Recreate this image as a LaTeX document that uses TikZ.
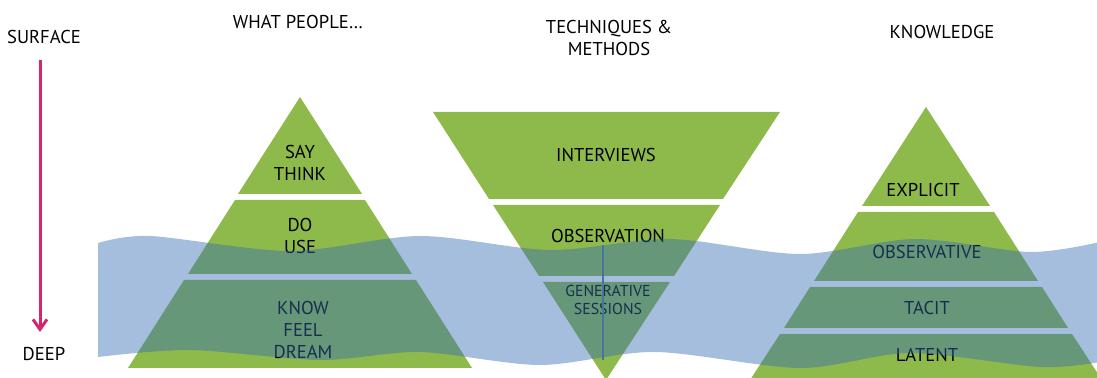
\documentclass[tikz,border=0pt]{standalone}
\usepackage{fontspec}
\setmainfont{PT Sans}
\usetikzlibrary{arrows.meta}
\definecolor{leaf}{RGB}{142,186,76}
\definecolor{sea}{RGB}{53,107,178}
\definecolor{depthred}{RGB}{214,36,110}
\definecolor{seam}{RGB}{72,116,160}

\begin{document}
\begin{tikzpicture}[x=0.5pt,y=-0.5pt,
  layer/.style={fill=leaf},
  water/.style={fill=sea,fill opacity=0.44},
  lbl/.style={font=\fontsize{9.3}{11}\selectfont,align=center,inner sep=0pt},
  smalllbl/.style={font=\fontsize{7.9}{9}\selectfont,align=center,inner sep=0pt},
  depth arrow/.style={draw=depthred,line width=1.5pt,-{Straight Barb[length=5pt,width=7pt]}}]
  \clip (0,0) rectangle (1097,378);

  % headings
  \node[lbl] (surface) at (44,37) {SURFACE};
  \node[lbl] (deep) at (44,354) {DEEP};
  \node[lbl] (whatppl) at (298,22) {WHAT PEOPLE\dots};
  \node[lbl] (techniques) at (609,38) {TECHNIQUES \&\\METHODS};
  \node[lbl] (knowledge) at (942,32) {KNOWLEDGE};

  \coordinate (arrtop) at (40,60);
  \coordinate (arrbot) at (40,332);
  \draw[depth arrow] (arrtop) -- (arrbot);

  % what people pyramid
  \fill[layer] (300,97) -- (362,194) -- (238,194) -- cycle;
  \fill[layer] (235,200) -- (365,200) -- (412,274) -- (188,274) -- cycle;
  \fill[layer] (184,280) -- (416,280) -- (472,368) -- (128,368) -- cycle;
  \node[lbl] (saythink) at (300,163) {SAY\\THINK};
  \node[lbl] (douse) at (300,236) {DO\\USE};
  \node[lbl] (knowfeel) at (303,330) {KNOW\\FEEL\\DREAM};

  % techniques funnel
  \fill[layer] (433,112) -- (780,112) -- (723,199) -- (489,199) -- cycle;
  \fill[layer] (493,205) -- (720,205) -- (674,276) -- (539,276) -- cycle;
  \fill[layer] (543,282) -- (670,282) -- (606,380) -- cycle;
  \node[lbl] (interviews) at (606,155) {INTERVIEWS};
  \node[lbl] (observation) at (608,236) {OBSERVATION};
  \node[smalllbl] (generative) at (608,300) {GENERATIVE\\SESSIONS};

  % knowledge pyramid
  \fill[layer] (926,107) -- (990,206) -- (862,206) -- cycle;
  \fill[layer] (858,212) -- (994,212) -- (1038,281) -- (814,281) -- cycle;
  \fill[layer] (810,287) -- (1042,287) -- (1068,328) -- (784,328) -- cycle;
  \fill[layer] (780,334) -- (1072,334) -- (1102,380) -- (750,380) -- cycle;
  \node[lbl] (explicit) at (923,190) {EXPLICIT};
  \node[lbl] (observative) at (927,252) {OBSERVATIVE};
  \node[lbl] (tacit) at (927,308) {TACIT};
  \node[lbl] (latent) at (927,355) {LATENT};

  % the water line
  \fill[water] plot[smooth] coordinates {(98,243) (150,236) (290,251) (420,236)
      (550,250) (670,239) (800,254) (915,239) (1030,252) (1100,242)}
    -- plot[smooth] coordinates {(1100,362) (1040,367) (910,353) (800,368)
      (655,352) (540,365) (420,352) (320,360) (190,350) (98,357)}
    -- cycle;

  \coordinate (seamtop) at (603,245);
  \coordinate (seambot) at (603,360);
  \draw[seam,line width=0.6pt] (seamtop) -- (seambot);
\end{tikzpicture}
\end{document}
